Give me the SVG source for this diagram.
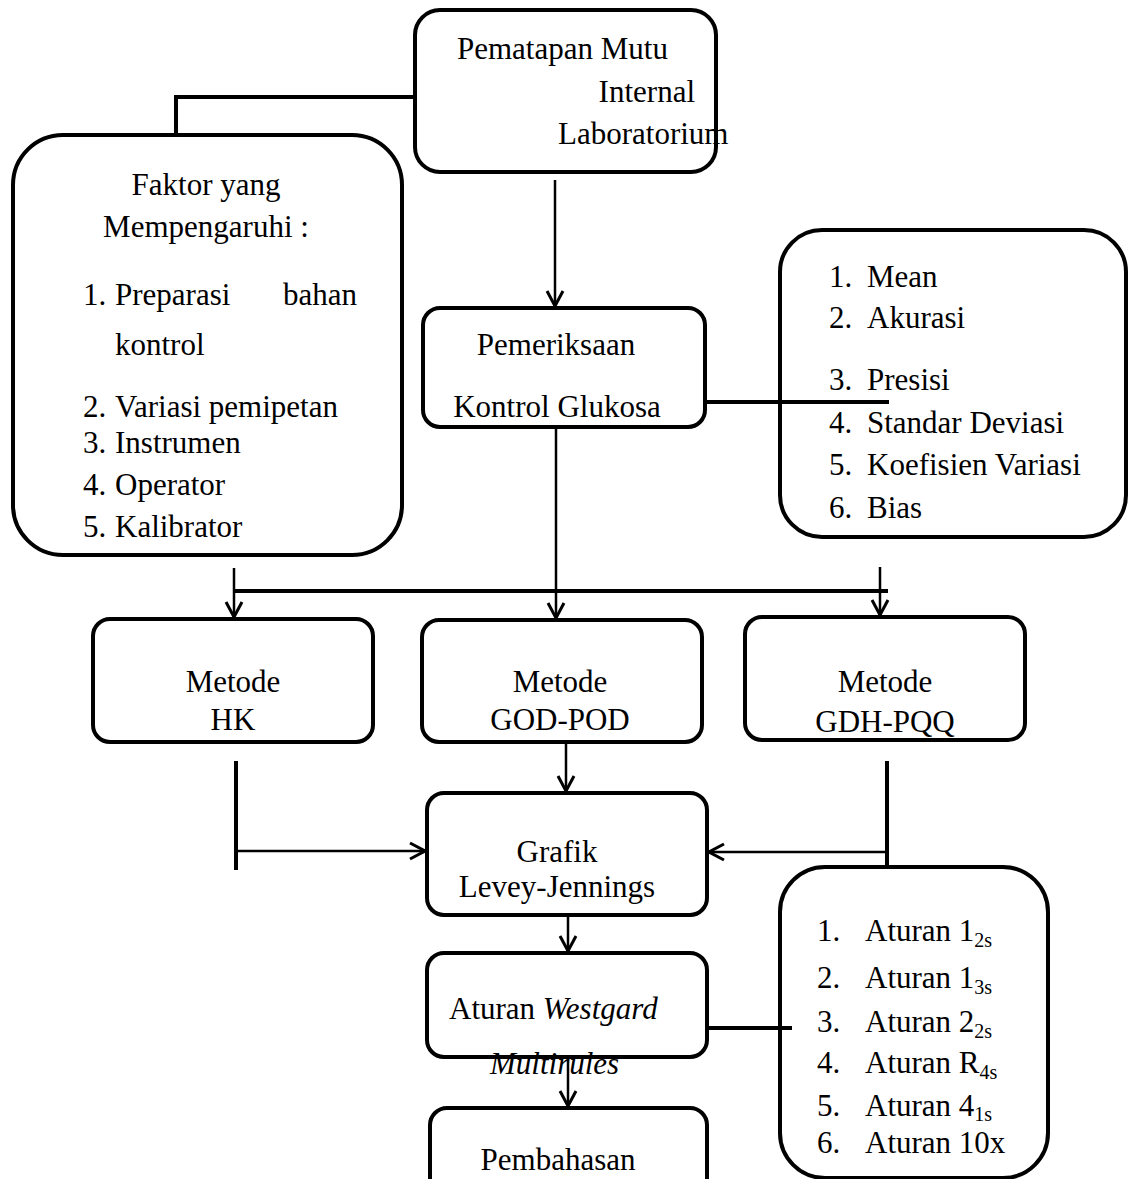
<svg xmlns="http://www.w3.org/2000/svg" width="1130" height="1179" viewBox="0 0 1130 1179" font-family="'Liberation Serif', 'Times New Roman', Times, serif">
<style>
text{font-family:'Liberation Serif','Times New Roman',Times,serif;font-size:31px;fill:#000}
.c{text-anchor:middle}
.e{text-anchor:end}
.i{font-style:italic}
.sub{font-size:20px}
.box{fill:#fff;stroke:#000;stroke-width:4}
.thick{fill:none;stroke:#000;stroke-width:4}
.arr{fill:none;stroke:#000;stroke-width:2.5;marker-end:url(#ah)}
</style>
<defs>
<marker id="ah" markerUnits="userSpaceOnUse" viewBox="0 0 20 20" markerWidth="20" markerHeight="20" refX="18" refY="10" orient="auto">
<path d="M3,2 L18,10 L3,18" fill="none" stroke="#000" stroke-width="3"/>
</marker>
</defs>
<rect width="1130" height="1179" fill="#fff"/>

<g id="node-pmi">
<rect class="box" x="415" y="10" width="301" height="162" rx="25"/>
<text x="457" y="59">Pematapan Mutu</text>
<text class="e" x="695" y="102">Internal</text>
<text x="558" y="144">Laboratorium</text>
</g>

<g id="node-faktor">
<rect class="box" x="13" y="135" width="389" height="420" rx="50"/>
<text class="c" x="206" y="195">Faktor yang</text>
<text class="c" x="206" y="237">Mempengaruhi :</text>
<text x="83" y="305">1.</text><text x="115" y="305">Preparasi</text><text x="283" y="305">bahan</text>
<text x="115" y="355">kontrol</text>
<text x="83" y="417">2.</text><text x="115" y="417">Variasi pemipetan</text>
<text x="83" y="453">3.</text><text x="115" y="453">Instrumen</text>
<text x="83" y="495">4.</text><text x="115" y="495">Operator</text>
<text x="83" y="537">5.</text><text x="115" y="537">Kalibrator</text>
</g>

<g id="node-pemeriksaan">
<rect class="box" x="423" y="308" width="282" height="119" rx="17"/>
<text class="c" x="556" y="355">Pemeriksaan</text>
<text class="c" x="557" y="417">Kontrol Glukosa</text>
</g>

<g id="node-parameter">
<rect class="box" x="780" y="230" width="346" height="307" rx="42"/>
<text x="829" y="287">1.</text><text x="867" y="287">Mean</text>
<text x="829" y="328">2.</text><text x="867" y="328">Akurasi</text>
<text x="829" y="390">3.</text><text x="867" y="390">Presisi</text>
<text x="829" y="433">4.</text><text x="867" y="433">Standar Deviasi</text>
<text x="829" y="475">5.</text><text x="867" y="475">Koefisien Variasi</text>
<text x="829" y="518">6.</text><text x="867" y="518">Bias</text>
</g>

<g id="node-hk">
<rect class="box" x="93" y="619" width="280" height="123" rx="17"/>
<text class="c" x="233" y="692">Metode</text>
<text class="c" x="233" y="730">HK</text>
</g>

<g id="node-godpod">
<rect class="box" x="422" y="620" width="280" height="122" rx="17"/>
<text class="c" x="560" y="692">Metode</text>
<text class="c" x="560" y="730">GOD-POD</text>
</g>

<g id="node-gdhpqq">
<rect class="box" x="745" y="617" width="280" height="123" rx="17"/>
<text class="c" x="885" y="692">Metode</text>
<text class="c" x="885" y="732">GDH-PQQ</text>
</g>

<g id="node-grafik">
<rect class="box" x="427" y="793" width="280" height="122" rx="17"/>
<text class="c" x="557" y="862">Grafik</text>
<text class="c" x="557" y="897">Levey-Jennings</text>
</g>

<g id="node-westgard">
<rect class="box" x="427" y="953" width="280" height="104" rx="17"/>
<text x="449" y="1019">Aturan <tspan class="i">Westgard</tspan></text>
<text class="i" x="490" y="1074">Multirules</text>
</g>

<g id="node-pembahasan">
<rect class="box" x="430" y="1108" width="277" height="100" rx="17"/>
<text class="c" x="558" y="1170">Pembahasan</text>
</g>

<g id="node-aturan">
<rect class="box" x="780" y="867" width="268" height="311" rx="45"/>
<text x="817" y="941">1.</text><text x="865" y="941">Aturan 1<tspan class="sub" dy="6">2s</tspan></text>
<text x="817" y="988">2.</text><text x="865" y="988">Aturan 1<tspan class="sub" dy="6">3s</tspan></text>
<text x="817" y="1032">3.</text><text x="865" y="1032">Aturan 2<tspan class="sub" dy="6">2s</tspan></text>
<text x="817" y="1073">4.</text><text x="865" y="1073">Aturan R<tspan class="sub" dy="6">4s</tspan></text>
<text x="817" y="1116">5.</text><text x="865" y="1116">Aturan 4<tspan class="sub" dy="5">1s</tspan></text>
<text x="817" y="1153">6.</text><text x="865" y="1153">Aturan 10x</text>
</g>

<g id="connectors">
<polyline class="thick" points="415,97 176,97 176,135"/>
<line class="arr" x1="555" y1="180" x2="555" y2="306"/>
<line class="thick" x1="705" y1="402" x2="889" y2="402" stroke-width="5"/>
<line class="arr" x1="556" y1="427" x2="556" y2="618"/>
<line class="thick" x1="234" y1="591" x2="888" y2="591"/>
<line class="arr" x1="234" y1="568" x2="234" y2="617"/>
<line class="arr" x1="880" y1="567" x2="880" y2="615"/>
<line class="arr" x1="566" y1="742" x2="566" y2="791"/>
<line class="thick" x1="236" y1="761" x2="236" y2="870" stroke-width="3"/>
<line class="arr" x1="236" y1="851" x2="425" y2="851"/>
<line class="thick" x1="887" y1="761" x2="887" y2="867" stroke-width="3"/>
<line class="arr" x1="887" y1="852" x2="709" y2="852"/>
<line class="arr" x1="568" y1="915" x2="568" y2="951"/>
<line class="arr" x1="568" y1="1057" x2="568" y2="1106"/>
<line class="thick" x1="707" y1="1028" x2="792" y2="1028"/>
</g>
</svg>
